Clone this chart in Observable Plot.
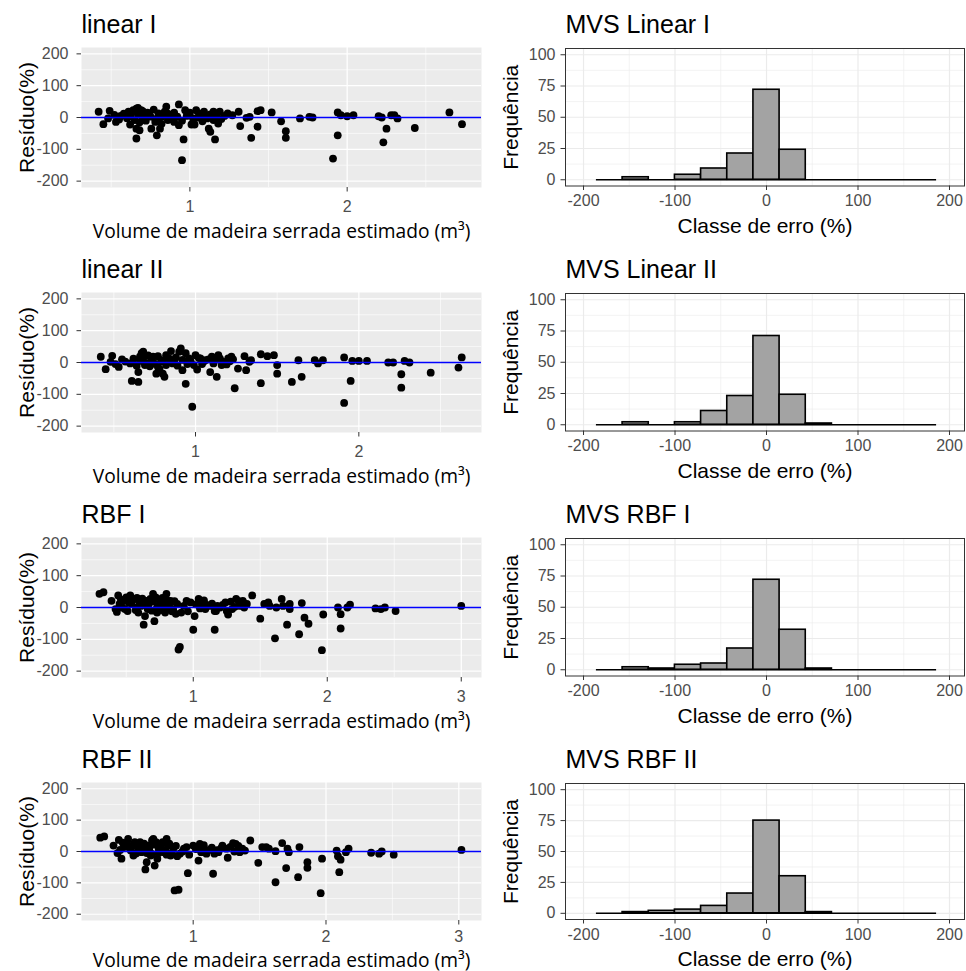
<!DOCTYPE html>
<html><head><meta charset="utf-8">
<script src="https://cdn.jsdelivr.net/npm/d3@7"></script>
<script src="https://cdn.jsdelivr.net/npm/@observablehq/plot@0.6"></script>
<style>
body{margin:0;background:#fff;}
#grid{position:relative;width:966px;height:971px;overflow:hidden;}
.cell{position:absolute;}
.cell svg{display:block;}
</style></head><body><div id="grid"></div>
<script>
// ---- data: residual scatter points [estimated volume (m3), residual (%)] ----
const linearIPoints = [
[0.42,18],[0.49,21],[0.45,-21],[0.48,-3],[0.53,-14],[0.56,5],[0.61,18],[0.62,-22],[0.64,23],[0.66,28],[0.67,30],[0.69,23],[0.66,-35],[0.66,-66],[0.68,-40],[0.70,-3],[0.71,7],[0.74,13],[0.755,-35],[0.78,-14],[0.79,-56],[0.80,13],[0.81,-35],[0.82,2],[0.84,18],[0.85,34],[0.86,-8],[0.88,7],[0.90,-14],[0.93,-24],[0.93,41],[0.96,-69],[0.95,-134],[0.97,23],[0.99,13],[1.01,-22],[1.03,-22],[1.04,23],[1.06,7],[1.09,18],[1.11,-3],[1.12,-35],[1.13,-45],[1.15,18],[1.16,-69],[1.17,2],[1.18,-19],[1.19,18],[1.24,13],[1.27,7],[1.31,18],[1.32,-27],[1.36,-1],[1.38,2],[1.39,-64],[1.43,-29],[1.43,20],[1.45,23],[1.52,16],[1.58,-12],[1.61,-43],[1.61,-64],[1.70,-3],[1.76,2],[1.78,0],[1.91,-129],
[1.94,-56],[1.94,16],[1.96,7],[2.0,4],[2.04,7],[2.20,4],[2.22,0],[2.23,-78],[2.25,-35],[2.28,7],[2.30,7],[2.32,-3],[2.43,-33],[2.65,16],[2.73,-21],
[0.52,8],[0.55,-6],[0.58,12],[0.60,-2],[0.62,4],[0.63,15],[0.65,-8],[0.67,10],[0.68,-15],[0.70,20],[0.72,-10],[0.73,15],[0.75,3],[0.77,25],[0.78,-5],[0.80,0],[0.82,-20],[0.83,10],[0.86,12],[0.88,-5],[0.90,15],[0.92,3],[0.95,-10],[0.98,5],[1.00,15],[1.02,-3],[1.05,0],[1.07,12],[1.08,-12],[1.10,5],[1.13,10],[1.15,-8],[1.17,12],[1.20,-5],[1.22,5]
];
const linearIIPoints = [
[0.42,18],[0.45,-21],[0.49,21],[0.48,2],[0.53,-14],[0.55,10],[0.61,-58],[0.65,-30],[0.65,-61],[0.66,18],[0.67,29],[0.68,34],[0.69,-8],[0.74,18],[0.76,-35],[0.77,-14],[0.79,7],[0.80,-35],[0.81,-45],[0.82,23],[0.85,36],[0.87,7],[0.90,34],[0.91,44],[0.92,-24],[0.94,-67],[0.94,29],[0.96,13],[0.98,-139],[1.0,23],[1.01,-22],[1.03,13],[1.06,7],[1.09,-30],[1.10,18],[1.13,-45],[1.14,23],[1.16,-8],[1.18,-3],[1.20,13],[1.22,18],[1.24,-81],[1.26,-19],[1.30,20],[1.31,-24],[1.33,2],[1.34,7],[1.40,-65],[1.40,26],[1.44,20],[1.48,23],[1.50,-8],[1.50,-35],[1.59,-61],[1.63,7],[1.65,-45],[1.73,7],[1.75,-3],[1.78,7],
[1.91,16],[1.91,-127],[1.95,-58],[1.96,5],[2.0,5],[2.05,5],[2.18,0],[2.21,0],[2.26,-79],[2.26,-37],[2.28,5],[2.31,0],[2.44,-32],[2.61,-16],[2.63,16],
[0.51,-5],[0.57,3],[0.60,-3],[0.62,12],[0.64,-10],[0.66,5],[0.68,14],[0.70,-2],[0.71,22],[0.72,-12],[0.73,8],[0.75,-4],[0.77,20],[0.78,-20],[0.80,4],[0.82,-8],[0.84,12],[0.86,-3],[0.88,16],[0.89,-10],[0.92,8],[0.95,-5],[0.97,5],[0.99,-8],[1.02,14],[1.04,-5],[1.05,3],[1.08,10],[1.11,-3],[1.12,8],[1.15,12],[1.17,2],[1.19,-6],[1.21,4],[1.23,10]
];
const rbfIPoints = [
[0.30,43],[0.33,48],[0.39,21],[0.42,-5],[0.43,-14],[0.44,38],[0.45,11],[0.48,21],[0.49,-5],[0.50,32],[0.51,-11],[0.53,38],[0.54,11],[0.56,27],[0.58,0],[0.59,-16],[0.60,16],[0.63,-54],[0.64,-27],[0.65,21],[0.66,-5],[0.68,27],[0.70,43],[0.71,-43],[0.73,-16],[0.74,5],[0.75,21],[0.78,16],[0.79,-16],[0.80,43],[0.81,0],[0.83,21],[0.85,-5],[0.88,11],[0.89,-132],[0.90,-124],[0.91,-16],[0.95,21],[0.98,16],[1.0,-70],[1.01,-27],[1.04,27],[1.06,16],[1.09,-5],[1.12,5],[1.16,-70],[1.16,-11],[1.17,-11],[1.20,0],[1.24,16],[1.25,-11],[1.26,-22],[1.29,-5],[1.32,27],[1.35,5],[1.37,21],[1.40,11],[1.44,38],[1.50,-35],[1.53,11],[1.56,16],[1.57,5],[1.61,-97],[1.62,0],[1.66,27],[1.67,5],[1.70,-54],[1.72,11],[1.72,-5],[1.79,-84],[1.81,14],[1.83,-32],[1.86,-51],[1.96,-134],[1.97,-22],
[2.08,0],[2.10,-21],[2.10,-66],[2.15,0],[2.17,9],[2.36,-3],[2.40,-5],[2.43,0],[2.51,-11],[3.0,5],
[0.46,25],[0.47,0],[0.52,15],[0.55,25],[0.57,-8],[0.58,30],[0.61,5],[0.62,28],[0.64,8],[0.67,12],[0.69,-10],[0.70,20],[0.72,32],[0.73,2],[0.76,-8],[0.77,30],[0.78,-2],[0.80,25],[0.82,8],[0.84,-12],[0.86,20],[0.87,-20],[0.93,5],[0.96,-12],[1.02,10],[1.05,-3],[1.08,22],[1.10,8],[1.14,12],[1.18,5],[1.22,8],[1.28,18],[1.31,2],[1.34,20],[1.38,0]
];
const rbfIIPoints = [
[0.30,44],[0.33,48],[0.40,19],[0.44,37],[0.43,-5],[0.46,-23],[0.48,14],[0.50,24],[0.51,40],[0.53,3],[0.54,19],[0.55,-13],[0.58,14],[0.60,30],[0.61,-2],[0.64,-57],[0.65,-34],[0.66,19],[0.68,-13],[0.69,35],[0.70,40],[0.71,-45],[0.73,-23],[0.74,9],[0.76,24],[0.78,-2],[0.80,40],[0.81,19],[0.83,-13],[0.85,9],[0.86,-124],[0.89,-122],[0.90,-7],[0.93,9],[0.96,-69],[0.95,14],[1.0,19],[1.04,-29],[1.05,24],[1.07,9],[1.10,-7],[1.15,-71],[1.16,-7],[1.19,-2],[1.22,19],[1.25,9],[1.26,-20],[1.30,27],[1.32,24],[1.35,-2],[1.37,9],[1.43,35],[1.49,-36],[1.52,14],[1.55,14],[1.57,9],[1.62,-98],[1.62,1],[1.67,27],[1.70,-53],[1.71,9],[1.72,-2],[1.79,-82],[1.80,14],[1.86,-34],[1.86,-52],[1.96,-133],[1.97,-23],
[2.08,3],[2.09,-15],[2.11,-26],[2.10,-66],[2.15,-2],[2.17,9],[2.34,-4],[2.40,-7],[2.42,0],[2.51,-10],[3.02,5],
[0.45,5],[0.47,28],[0.52,12],[0.56,30],[0.57,-6],[0.59,22],[0.62,8],[0.63,25],[0.65,-5],[0.67,10],[0.69,-8],[0.71,22],[0.72,30],[0.74,-5],[0.75,15],[0.77,30],[0.79,5],[0.80,-10],[0.82,25],[0.84,-5],[0.87,18],[0.88,-15],[0.92,0],[0.97,-10],[1.02,8],[1.06,-2],[1.08,20],[1.12,5],[1.14,12],[1.18,4],[1.21,10],[1.28,15],[1.31,0],[1.34,18],[1.39,3]
];

// ---- data: histogram of error classes (bin edges, %) and frequencies ----
const binEdges = [-185.9,-157.3,-128.7,-100.1,-71.5,-42.9,-14.3,14.3,42.9,71.5,100.1,128.7,157.3,185.9];
const countsLinearI  = [0,2,0,4,9,21,72,24,0,0,0,0,0];
const countsLinearII = [0,2,0,2,11,23,71,24,1,0,0,0,0];
const countsRbfI     = [0,2,1,4,5,17,72,32,1,0,0,0,0];
const countsRbfII    = [0,1,2,3,6,16,75,30,1,0,0,0,0];

// ---- labels / ticks ----
const scatterTitles = ["linear I","linear II","RBF I","RBF II"];
const histTitles = ["MVS Linear I","MVS Linear II","MVS RBF I","MVS RBF II"];
const scatterXLabel = "Volume de madeira serrada estimado (m³)";
const scatterYLabel = "Resíduo(%)";
const histXLabel = "Classe de erro (%)";
const histYLabel = "Frequência";
const residualTicks = [-200,-100,0,100,200];
const residualMinor = [-150,-50,50,150];
const volumeTicks = [[1,2],[1,2],[1,2,3],[1,2,3]];
const volumeMinor = [[0.5,1.5,2.5],[0.5,1.5,2.5],[0.5,1.5,2.5],[0.5,1.5,2.5]];
const volumeDomains = [[0.311,2.854],[0.302,2.751],[0.166,3.151],[0.159,3.171]];
const errorTicks = [-200,-100,0,100,200];
const errorMinor = [-150,-50,50,150];
const freqTicks = [0,25,50,75,100];
const freqMinor = [12.5,37.5,62.5,87.5];

const scatterSets = [linearIPoints, linearIIPoints, rbfIPoints, rbfIIPoints];
const histSets = [countsLinearI, countsLinearII, countsRbfI, countsRbfII];

const ARIAL = "'Liberation Sans', Arial, Helvetica, sans-serif";
const fmt = d => String(d);
const rowTop = [0,245,490,735];
const rowH = [245,245,245,236];

function scatterPanel(i) {
  const last = i === 3;
  const h = rowH[i];
  const data = scatterSets[i].map(([v, r]) => ({v, r}));
  return Plot.plot({
    width: 483, height: h,
    marginLeft: 81, marginRight: 2, marginTop: 47, marginBottom: last ? 51 : 58,
    style: {fontFamily: ARIAL, fontSize: "16px", background: "transparent", overflow: "visible"},
    x: {domain: volumeDomains[i]},
    y: {domain: [-220, 220]},
    marks: [
      Plot.frame({fill: "#EBEBEB", stroke: "none"}),
      Plot.gridX(volumeMinor[i], {stroke: "white", strokeOpacity: 1, strokeWidth: 0.6}),
      Plot.gridY(residualMinor, {stroke: "white", strokeOpacity: 1, strokeWidth: 0.6}),
      Plot.gridX(volumeTicks[i], {stroke: "white", strokeOpacity: 1, strokeWidth: 1.2}),
      Plot.gridY(residualTicks, {stroke: "white", strokeOpacity: 1, strokeWidth: 1.2}),
      Plot.dot(data, {x: "v", y: "r", r: 3.9, fill: "black", stroke: "none"}),
      Plot.ruleY([0], {stroke: "#0000FF", strokeWidth: 1.5}),
      Plot.axisX(volumeTicks[i], {tickSize: 4.5, tickPadding: last ? 6 : 8.5, stroke: "#333333", color: "#4D4D4D", fill: "#4D4D4D", fontSize: 16, tickFormat: fmt, label: null}),
      Plot.axisY(residualTicks, {tickSize: 4.5, tickPadding: 8.5, stroke: "#333333", color: "#4D4D4D", fill: "#4D4D4D", fontSize: 16, tickFormat: fmt, label: null}),
      Plot.text([scatterXLabel], {text: d => d, frameAnchor: "bottom", dy: last ? 46 : 50, lineAnchor: "bottom", textAnchor: "middle", fontFamily: "'Open Sans', 'Noto Sans', sans-serif", fontSize: 19.2, fill: "black"}),
      Plot.text([scatterYLabel], {text: d => d, frameAnchor: "left", dx: -48, rotate: -90, lineAnchor: "bottom", textAnchor: "middle", fontSize: 21, fill: "black"}),
      Plot.text([scatterTitles[i]], {text: d => d, frameAnchor: "top-left", dy: -15, lineAnchor: "bottom", textAnchor: "start", fontSize: 25, fill: "black"})
    ]
  });
}

function histPanel(i) {
  const last = i === 3;
  const h = rowH[i];
  const counts = histSets[i];
  const bins = counts.map((c, j) => ({x1: binEdges[j], x2: binEdges[j + 1], count: c})).filter(d => d.count > 0);
  return Plot.plot({
    width: 483, height: h,
    marginLeft: 82, marginRight: 2, marginTop: 48, marginBottom: last ? 52 : 59.5,
    style: {fontFamily: ARIAL, fontSize: "16px", background: "transparent", overflow: "visible"},
    x: {domain: [-219.7, 216.4]},
    y: {domain: [-5, 105]},
    marks: [
      Plot.gridX(errorMinor, {stroke: "#EBEBEB", strokeOpacity: 1, strokeWidth: 0.6}),
      Plot.gridY(freqMinor, {stroke: "#EBEBEB", strokeOpacity: 1, strokeWidth: 0.6}),
      Plot.gridX(errorTicks, {stroke: "#EBEBEB", strokeOpacity: 1, strokeWidth: 1.2}),
      Plot.gridY(freqTicks, {stroke: "#EBEBEB", strokeOpacity: 1, strokeWidth: 1.2}),
      Plot.rect(bins, {x1: "x1", x2: "x2", y1: () => 0, y2: "count", fill: "#A3A3A3", stroke: "black", strokeWidth: 1.6}),
      Plot.ruleY([0], {x1: () => binEdges[0], x2: () => binEdges[binEdges.length - 1], stroke: "black", strokeWidth: 1.6}),
      Plot.frame({stroke: "#333333", strokeWidth: 1, fill: "none"}),
      Plot.axisX(errorTicks, {tickSize: 4.5, tickPadding: 4.3, stroke: "#333333", color: "#4D4D4D", fill: "#4D4D4D", fontSize: 16, tickFormat: fmt, label: null}),
      Plot.axisY(freqTicks, {tickSize: 4.5, tickPadding: 5.5, stroke: "#333333", color: "#4D4D4D", fill: "#4D4D4D", fontSize: 16, tickFormat: fmt, label: null}),
      Plot.text([histXLabel], {text: d => d, frameAnchor: "bottom", dy: last ? 46 : 46.5, lineAnchor: "bottom", textAnchor: "middle", fontSize: 21, fill: "black"}),
      Plot.text([histYLabel], {text: d => d, frameAnchor: "left", dx: -48, rotate: -90, lineAnchor: "bottom", textAnchor: "middle", fontSize: 21, fill: "black"}),
      Plot.text([histTitles[i]], {text: d => d, frameAnchor: "top-left", dy: -16, lineAnchor: "bottom", textAnchor: "start", fontSize: 25, fill: "black"})
    ]
  });
}

const grid = document.getElementById("grid");
for (let i = 0; i < 4; i++) {
  const left = document.createElement("div");
  left.className = "cell";
  left.style.left = "0px"; left.style.top = rowTop[i] + "px";
  left.appendChild(scatterPanel(i));
  grid.appendChild(left);
  const right = document.createElement("div");
  right.className = "cell";
  right.style.left = "483px"; right.style.top = rowTop[i] + "px";
  right.appendChild(histPanel(i));
  grid.appendChild(right);
}
</script>
</body></html>
